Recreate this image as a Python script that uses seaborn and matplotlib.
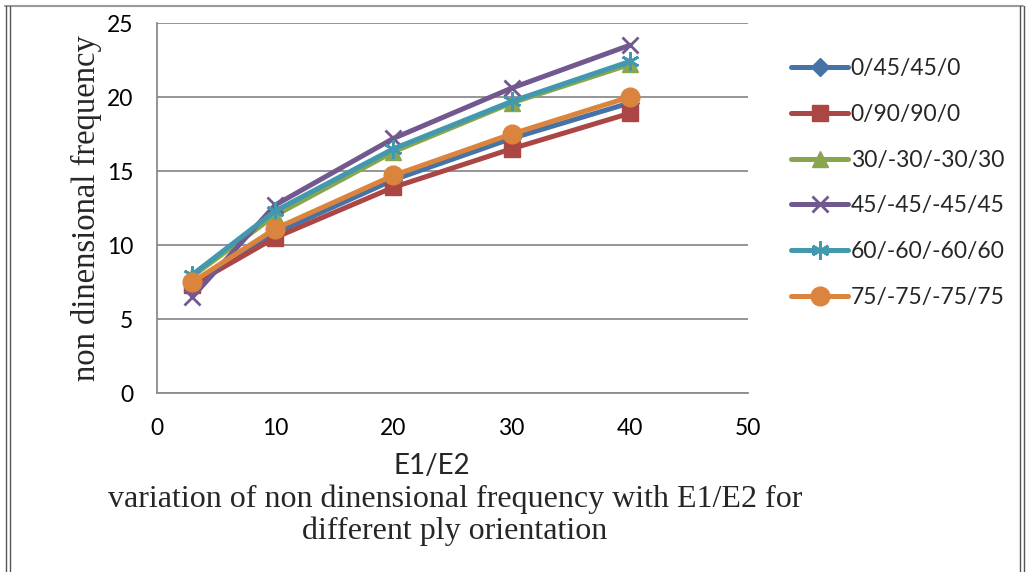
import matplotlib
matplotlib.use("Agg")
import matplotlib.pyplot as plt
from matplotlib.lines import Line2D
import seaborn as sns
import pandas as pd

# ---- data ----
e_ratio = [3, 10, 20, 30, 40]
labels = ["0/45/45/0", "0/90/90/0", "30/-30/-30/30", "45/-45/-45/45",
          "60/-60/-60/60", "75/-75/-75/75"]
s_0_45 = [7.4, 10.8, 14.4, 17.2, 19.6]
s_0_90 = [7.3, 10.5, 13.9, 16.5, 18.9]
s_30 = [7.9, 12.0, 16.3, 19.6, 22.2]
s_45 = [6.5, 12.7, 17.2, 20.6, 23.5]
s_60 = [8.0, 12.3, 16.5, 19.7, 22.4]
s_75 = [7.5, 11.1, 14.7, 17.5, 20.0]
series = [s_0_45, s_0_90, s_30, s_45, s_60, s_75]

colors = ["#4572A7", "#AA4643", "#89A54E", "#71588F", "#4198AF", "#DB843D"]
markers = ["D", "s", "^", "x", (6, 2, 0), "o"]
msizes = [9, 11.5, 11, 12, 13, 13.5]

sns.set_theme(style="white")
plt.rcParams["font.family"] = ["Lato", "DejaVu Sans"]

fig = plt.figure(figsize=(10.27, 5.72), dpi=100)
ax = fig.add_axes([157 / 1027, 1 - 393 / 572, (748 - 157) / 1027, (393 - 23) / 572])

rows = []
for lab, vals in zip(labels, series):
    for x, y in zip(e_ratio, vals):
        rows.append({"E1/E2": x, "freq": y, "ply": lab})
df = pd.DataFrame(rows)

for i, lab in enumerate(labels):
    sub = df[df["ply"] == lab]
    mew = 2.0 if i in (3, 4) else 1.0
    sns.lineplot(data=sub, x="E1/E2", y="freq", ax=ax, color=colors[i],
                 marker=markers[i], markersize=msizes[i], linewidth=3.6,
                 markeredgecolor=colors[i], markeredgewidth=mew, label=lab,
                 zorder=3 + i, estimator=None, sort=False)

ax.set_xlim(0, 50)
ax.set_ylim(0, 25)
ax.set_xticks([0, 10, 20, 30, 40, 50])
ax.set_yticks([0, 5, 10, 15, 20, 25])
ax.grid(axis="y", color="#8C8C8C", linewidth=1.3)
ax.grid(axis="x", visible=False)
for side in ["right", "top"]:
    ax.spines[side].set_visible(False)
for side in ["left", "bottom"]:
    ax.spines[side].set_color("#8C8C8C")
    ax.spines[side].set_linewidth(1.3)
ax.tick_params(axis="both", labelsize=16.5, colors="black", length=0)
ax.tick_params(axis="y", pad=17)
ax.tick_params(axis="x", pad=18)
ax.set_xlabel("")
ax.set_ylabel("non dinensional frequency", family=["Liberation Serif"],
              fontsize=23.5)
ax.yaxis.set_label_coords(-0.093, 0.5)

fig.text(432 / 1027, 1 - 466 / 572, "E1/E2", fontsize=20, ha="center", va="center")
fig.text(455 / 1027, 1 - 515 / 572,
         "variation of non dinensional frequency with E1/E2 for\ndifferent ply orientation",
         family=["Liberation Serif"], fontsize=23, ha="center", va="center",
         linespacing=1.13)

leg = ax.legend(loc="upper left", bbox_to_anchor=(782 / 1027, 1 - 49 / 572),
                bbox_transform=fig.transFigure, frameon=False, fontsize=16.5,
                handlelength=2.5, handletextpad=0.1, labelspacing=1.08,
                borderaxespad=0)

# outer frame
frame_c = "#9A9A9A"
fig.add_artist(Line2D([5 / 1027, 1023 / 1027], [1 - 6 / 572, 1 - 6 / 572],
                      transform=fig.transFigure, color=frame_c, lw=1.5))
for xp in (6, 10):
    fig.add_artist(Line2D([xp / 1027, xp / 1027], [0, 1 - 6 / 572],
                          transform=fig.transFigure, color="#555555", lw=1))
for xp in (1020, 1024):
    fig.add_artist(Line2D([xp / 1027, xp / 1027], [0, 1 - 6 / 572],
                          transform=fig.transFigure, color="#555555", lw=1))

fig.savefig("out.png", dpi=100)
